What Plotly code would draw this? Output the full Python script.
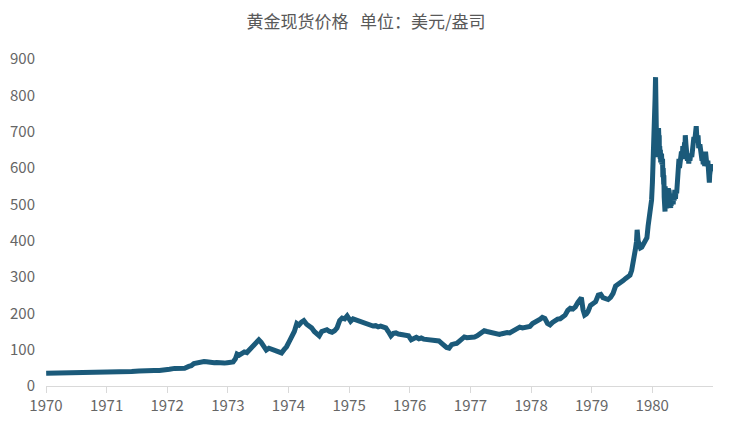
import plotly.graph_objects as go

# Gold spot price, USD per ounce
dates = [
    "1970-01-02", "1970-04-01", "1970-07-01", "1970-10-01", "1970-12-31",
    "1971-02-01", "1971-04-01", "1971-06-01", "1971-07-15", "1971-08-15", "1971-09-15",
    "1971-10-15", "1971-11-15", "1971-12-20",
    "1972-01-15", "1972-02-15", "1972-03-15", "1972-04-15", "1972-05-10", "1972-05-25",
    "1972-06-10", "1972-06-25", "1972-07-10", "1972-07-25", "1972-08-10", "1972-08-25",
    "1972-09-10", "1972-09-25", "1972-10-10", "1972-10-25", "1972-11-10", "1972-11-25",
    "1972-12-10", "1972-12-28",
    "1973-01-15", "1973-02-01", "1973-02-15", "1973-02-25", "1973-03-10", "1973-03-25",
    "1973-04-10", "1973-04-25", "1973-05-10", "1973-05-25", "1973-06-10", "1973-06-25",
    "1973-07-06", "1973-07-20", "1973-08-05", "1973-08-20", "1973-09-05", "1973-09-20",
    "1973-10-05", "1973-10-20", "1973-11-05", "1973-11-20", "1973-12-05", "1973-12-20",
    "1974-01-05", "1974-01-20", "1974-02-05", "1974-02-20", "1974-03-05", "1974-03-20",
    "1974-04-03", "1974-04-20", "1974-05-05", "1974-05-20", "1974-06-05", "1974-06-20",
    "1974-07-05", "1974-07-20", "1974-08-05", "1974-08-20", "1974-09-05", "1974-09-20",
    "1974-10-05", "1974-10-20", "1974-11-05", "1974-11-20", "1974-12-05", "1974-12-20",
    "1974-12-30",
    "1975-01-10", "1975-01-25", "1975-02-10", "1975-02-25", "1975-03-10", "1975-03-25",
    "1975-04-10", "1975-04-25", "1975-05-10", "1975-05-25", "1975-06-10", "1975-06-25",
    "1975-07-10", "1975-07-25", "1975-08-10", "1975-08-25", "1975-09-10", "1975-09-25",
    "1975-10-10", "1975-10-25", "1975-11-10", "1975-11-25", "1975-12-10", "1975-12-25",
    "1976-01-10", "1976-01-25", "1976-02-10", "1976-02-25", "1976-03-10", "1976-03-25",
    "1976-04-10", "1976-04-25", "1976-05-10", "1976-05-25", "1976-06-10", "1976-06-25",
    "1976-07-10", "1976-07-25", "1976-08-10", "1976-08-25", "1976-09-10", "1976-09-25",
    "1976-10-10", "1976-10-25", "1976-11-10", "1976-11-25", "1976-12-10", "1976-12-25",
    "1977-01-10", "1977-01-25", "1977-02-10", "1977-02-25", "1977-03-10", "1977-03-25",
    "1977-04-10", "1977-04-25", "1977-05-10", "1977-05-25", "1977-06-10", "1977-06-25",
    "1977-07-10", "1977-07-25", "1977-08-10", "1977-08-25", "1977-09-10", "1977-09-25",
    "1977-10-10", "1977-10-25", "1977-11-10", "1977-11-25", "1977-12-10", "1977-12-25",
    "1978-01-10", "1978-01-25", "1978-02-10", "1978-02-25", "1978-03-10", "1978-03-25",
    "1978-04-10", "1978-04-25", "1978-05-10", "1978-05-25", "1978-06-10", "1978-06-25",
    "1978-07-10", "1978-07-25", "1978-08-10", "1978-08-25", "1978-09-10", "1978-09-25",
    "1978-10-10", "1978-10-25", "1978-10-31", "1978-11-10", "1978-11-20", "1978-11-30",
    "1978-12-10", "1978-12-25",
    "1979-01-10", "1979-01-25", "1979-02-10", "1979-02-25", "1979-03-10", "1979-03-25",
    "1979-04-10", "1979-04-25", "1979-05-10", "1979-05-25", "1979-06-10", "1979-06-25",
    "1979-07-10", "1979-07-25", "1979-08-10", "1979-08-20", "1979-08-30", "1979-09-07",
    "1979-09-14", "1979-09-21", "1979-09-28", "1979-10-02", "1979-10-08", "1979-10-15",
    "1979-10-22", "1979-10-30", "1979-11-08", "1979-11-15", "1979-11-22", "1979-11-30",
    "1979-12-07", "1979-12-14", "1979-12-21", "1979-12-28",
    "1980-01-02", "1980-01-07", "1980-01-11", "1980-01-15", "1980-01-18", "1980-01-21",
    "1980-01-22", "1980-01-23", "1980-01-24", "1980-01-25", "1980-01-28", "1980-01-29",
    "1980-01-31", "1980-02-01", "1980-02-04", "1980-02-05", "1980-02-06", "1980-02-08",
    "1980-02-11", "1980-02-12", "1980-02-13", "1980-02-15", "1980-02-18", "1980-02-19",
    "1980-02-21", "1980-02-22", "1980-02-25", "1980-02-26", "1980-02-28", "1980-03-03",
    "1980-03-05", "1980-03-07", "1980-03-10", "1980-03-11", "1980-03-13", "1980-03-14",
    "1980-03-17", "1980-03-18", "1980-03-19", "1980-03-20", "1980-03-24", "1980-03-25",
    "1980-03-27", "1980-03-28", "1980-03-31", "1980-04-02", "1980-04-04", "1980-04-07",
    "1980-04-09", "1980-04-11", "1980-04-14", "1980-04-15", "1980-04-17", "1980-04-18",
    "1980-04-21", "1980-04-22", "1980-04-24", "1980-04-25", "1980-04-29", "1980-05-02",
    "1980-05-06", "1980-05-09", "1980-05-12", "1980-05-16", "1980-05-20", "1980-05-23",
    "1980-05-27", "1980-06-02", "1980-06-04", "1980-06-06", "1980-06-10", "1980-06-13",
    "1980-06-17", "1980-06-20", "1980-06-25", "1980-06-30", "1980-07-03", "1980-07-08",
    "1980-07-14", "1980-07-16", "1980-07-18", "1980-07-22", "1980-07-25", "1980-07-28",
    "1980-07-31", "1980-08-05", "1980-08-08", "1980-08-11", "1980-08-15", "1980-08-20",
    "1980-08-26", "1980-09-02", "1980-09-05", "1980-09-08", "1980-09-12", "1980-09-17",
    "1980-09-19", "1980-09-22", "1980-09-25", "1980-09-30", "1980-10-03", "1980-10-07",
    "1980-10-14", "1980-10-20", "1980-10-23", "1980-10-27", "1980-10-30", "1980-11-03",
    "1980-11-07", "1980-11-12", "1980-11-14", "1980-11-17", "1980-11-21", "1980-11-26",
    "1980-12-01", "1980-12-05", "1980-12-08", "1980-12-10", "1980-12-12", "1980-12-16",
    "1980-12-22", "1980-12-29",
]

prices = [
    35.0, 35.4, 35.3, 36.8, 37.4,
    38.0, 38.6, 40.0, 41.0, 42.5, 42.0,
    42.5, 43.0, 43.6,
    46.0, 48.5, 48.3, 49.0, 54.0, 56.0,
    62.0, 64.0, 65.5, 66.0, 67.5, 67.0,
    65.0, 65.5, 64.0, 64.5, 63.0, 62.5,
    63.0, 64.0,
    65.0, 66.0, 75.0, 88.0, 85.0, 90.0,
    94.0, 92.0, 100.0, 104.0, 115.0, 122.0,
    127.0, 120.0, 106.0, 99.0, 104.0, 101.0,
    100.0, 98.0, 95.0, 91.0, 100.0, 108.0,
    122.0, 135.0, 150.0, 172.0, 168.0, 176.0,
    180.0, 170.0, 165.0, 160.0, 150.0, 142.0,
    138.0, 150.0, 152.0, 155.0, 150.0, 148.0,
    152.0, 160.0, 180.0, 187.0, 185.0, 193.0,
    186.0,
    178.0, 185.0, 182.0, 180.0, 178.0, 175.0,
    172.0, 168.0, 168.0, 165.0, 166.0, 163.0,
    165.0, 162.0, 160.0, 150.0, 138.0, 145.0,
    146.0, 143.0, 142.0, 140.0, 139.0, 138.0,
    127.0, 132.0, 134.0, 130.0, 132.0, 129.0,
    128.0, 127.0, 127.0, 126.0, 125.0, 124.0,
    118.0, 110.0, 106.0, 104.0, 114.0, 116.0,
    117.0, 123.0, 130.0, 135.0, 133.0, 134.0,
    132.0, 135.0, 138.0, 142.0, 148.0, 152.0,
    150.0, 148.0, 146.0, 145.0, 141.0, 142.0,
    144.0, 146.0, 147.0, 146.0, 150.0, 152.0,
    158.0, 162.0, 160.0, 162.0, 161.0, 164.0,
    172.0, 175.0, 180.0, 184.0, 189.0, 186.0,
    172.0, 168.0, 175.0, 181.0, 184.0, 185.0,
    189.0, 195.0, 208.0, 214.0, 212.0, 218.0,
    230.0, 242.0, 243.0, 210.0, 195.0, 198.0,
    205.0, 222.0,
    228.0, 232.0, 250.0, 252.0, 243.0, 240.0,
    238.0, 244.0, 255.0, 275.0, 280.0, 282.0,
    290.0, 296.0, 300.0, 305.0, 318.0, 335.0,
    350.0, 375.0, 397.0, 430.0, 400.0, 385.0,
    380.0, 382.0, 392.0, 395.0, 400.0, 408.0,
    440.0, 460.0, 476.0, 512.0,
    560.0, 610.0, 650.0, 700.0, 790.0, 850.0,
    737.0, 690.0, 700.0, 650.0, 630.0, 660.0,
    653.0, 700.0, 680.0, 705.0, 675.0, 710.0,
    665.0, 690.0, 640.0, 660.0, 625.0, 650.0,
    615.0, 645.0, 620.0, 640.0, 610.0, 625.0,
    575.0, 600.0, 555.0, 580.0, 520.0, 545.0,
    490.0, 480.0, 550.0, 520.0, 495.0, 540.0,
    490.0, 510.0, 500.0, 530.0, 495.0, 545.0,
    520.0, 540.0, 500.0, 530.0, 505.0, 520.0,
    490.0, 515.0, 495.0, 530.0, 505.0, 520.0,
    500.0, 525.0, 510.0, 540.0, 515.0, 540.0,
    530.0, 560.0, 600.0, 585.0, 625.0, 600.0,
    640.0, 615.0, 645.0, 625.0, 660.0, 640.0,
    670.0, 645.0, 690.0, 665.0, 640.0, 660.0,
    620.0, 635.0, 612.0, 630.0, 620.0, 640.0,
    630.0, 665.0, 650.0, 685.0, 670.0, 700.0,
    680.0, 715.0, 690.0, 670.0, 690.0, 655.0,
    665.0, 640.0, 655.0, 620.0, 635.0, 610.0,
    640.0, 605.0, 630.0, 645.0, 625.0, 605.0,
    620.0, 585.0, 600.0, 560.0, 580.0, 595.0,
    610.0, 590.0,
]

tick_dates = ["1970-01-01", "1971-01-01", "1972-01-01", "1973-01-01", "1974-01-01",
              "1975-01-01", "1976-01-01", "1977-01-01", "1978-01-01", "1979-01-01",
              "1980-01-01"]
tick_labels = ["1970", "1971", "1972", "1973", "1974", "1975", "1976", "1977",
               "1978", "1979", "1980"]
y_ticks = [0, 100, 200, 300, 400, 500, 600, 700, 800, 900]

title_text = "黄金现货价格\u00a0\u00a0\u00a0单位：美元/盎司"

fig = go.Figure()
fig.add_trace(go.Scatter(
    x=dates, y=prices, mode="lines",
    line=dict(color="#1b5a7a", width=5),
    showlegend=False,
))

font_family = "Noto Sans CJK SC, Noto Sans, sans-serif"

# the page body has an 8px default margin, so the figure is sized to fit the window
fig.update_layout(
    width=716, height=419,
    margin=dict(l=38, r=11, t=51, b=41, autoexpand=False),
    paper_bgcolor="white", plot_bgcolor="white",
    title=dict(text=title_text, x=0.5, xanchor="center", y=0.967, yanchor="middle",
               font=dict(family=font_family, size=17, color="#595959")),
    font=dict(family=font_family, color="#666666"),
)
fig.update_xaxes(
    type="date", range=["1970-01-01", "1981-01-01"],
    tickvals=tick_dates, ticktext=tick_labels,
    showgrid=False, zeroline=False,
    showline=True, linecolor="#d9d9d9", linewidth=1,
    ticks="outside", ticklen=6, tickcolor="#d9d9d9",
    tickfont=dict(size=15, color="#666666"),
    automargin=False,
)
fig.update_yaxes(
    range=[0, 900], tickvals=y_ticks,
    showgrid=False, zeroline=False, showline=False,
    ticks="", ticklabelstandoff=10,
    tickfont=dict(size=15, color="#666666"),
    automargin=False,
)

fig.write_html("out.html")
